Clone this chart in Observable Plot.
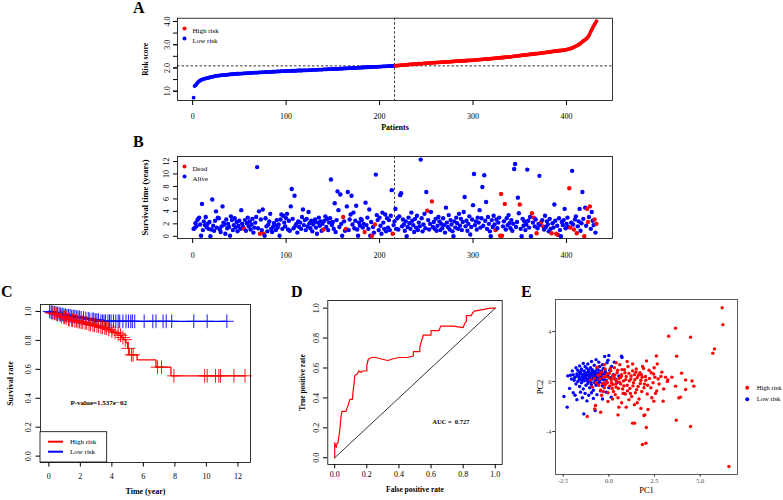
<!DOCTYPE html>
<html><head><meta charset="utf-8">
<script src="https://cdn.jsdelivr.net/npm/d3@7"></script>
<script src="https://cdn.jsdelivr.net/npm/@observablehq/plot@0.6"></script>
<style>
html,body{margin:0;padding:0;background:#fff;}
#root{position:relative;width:783px;height:500px;overflow:hidden;background:#fff;font-family:"Liberation Serif","Times New Roman",serif;}
</style></head><body><div id="root"></div>
<script>
// ---------------- DATA ----------------
const riskGroups = ["High risk", "Low risk"];
const riskColors = ["#FF0000", "#0000FF"];
const statusGroups = ["Dead", "Alive"];
const cutIndex = 216;
const cutScore = 2.09;
const patientTicks = [0, 100, 200, 300, 400];
const riskTicks = [1, 2, 3, 4];
const riskMinorTicks = [1, 1.5, 2, 2.5, 3, 3.5, 4];
const survTicks = [0, 2, 4, 6, 8, 10, 12];

// Panel A: sorted risk scores (patient 1..432)
const riskScore = [
0.72,1.22,1.25,1.30,1.36,1.40,1.43,1.46,1.48,1.50,
1.52,1.53,1.54,1.55,1.56,1.57,1.58,1.59,1.60,1.61,
1.62,1.63,1.64,1.65,1.66,1.66,1.67,1.67,1.68,1.68,
1.69,1.69,1.69,1.70,1.70,1.70,1.71,1.71,1.72,1.72,
1.73,1.73,1.73,1.74,1.74,1.74,1.75,1.75,1.75,1.76,
1.76,1.76,1.76,1.77,1.77,1.77,1.77,1.78,1.78,1.78,
1.78,1.79,1.79,1.79,1.79,1.80,1.80,1.80,1.80,1.80,
1.81,1.81,1.81,1.81,1.81,1.82,1.82,1.82,1.82,1.82,
1.83,1.83,1.83,1.83,1.84,1.84,1.84,1.84,1.84,1.85,
1.85,1.85,1.85,1.85,1.86,1.86,1.86,1.86,1.86,1.86,
1.87,1.87,1.87,1.87,1.87,1.88,1.88,1.88,1.88,1.88,
1.88,1.89,1.89,1.89,1.89,1.89,1.89,1.90,1.90,1.90,
1.90,1.90,1.90,1.91,1.91,1.91,1.91,1.91,1.92,1.92,
1.92,1.92,1.92,1.93,1.93,1.93,1.93,1.93,1.93,1.94,
1.94,1.94,1.94,1.94,1.95,1.95,1.95,1.95,1.95,1.96,
1.96,1.96,1.96,1.96,1.96,1.97,1.97,1.97,1.97,1.97,
1.98,1.98,1.98,1.98,1.98,1.99,1.99,1.99,1.99,1.99,
2.00,2.00,2.00,2.00,2.00,2.01,2.01,2.01,2.01,2.02,
2.02,2.02,2.02,2.03,2.03,2.03,2.03,2.03,2.04,2.04,
2.04,2.04,2.04,2.05,2.05,2.05,2.05,2.05,2.06,2.06,
2.06,2.06,2.07,2.07,2.07,2.07,2.07,2.08,2.08,2.08,
2.08,2.09,2.09,2.09,2.09,2.09,
2.10,2.10,2.10,2.11,2.11,2.11,2.12,2.12,2.12,2.13,
2.13,2.13,2.14,2.14,2.14,2.15,2.15,2.15,2.16,2.16,
2.16,2.17,2.17,2.17,2.18,2.18,2.18,2.19,2.19,2.19,
2.20,2.20,2.20,2.21,2.21,2.21,2.21,2.22,2.22,2.22,
2.22,2.23,2.23,2.23,2.23,2.24,2.24,2.24,2.24,2.25,
2.25,2.25,2.25,2.26,2.26,2.26,2.26,2.27,2.27,2.27,
2.27,2.28,2.28,2.28,2.29,2.29,2.29,2.29,2.30,2.30,
2.30,2.30,2.31,2.31,2.31,2.31,2.32,2.32,2.32,2.33,
2.33,2.33,2.33,2.34,2.34,2.34,2.35,2.35,2.35,2.36,
2.36,2.36,2.37,2.37,2.37,2.38,2.38,2.38,2.39,2.39,
2.39,2.40,2.40,2.40,2.41,2.41,2.41,2.42,2.42,2.43,
2.43,2.43,2.44,2.44,2.45,2.45,2.45,2.46,2.46,2.47,
2.47,2.47,2.48,2.48,2.49,2.49,2.50,2.50,2.51,2.51,
2.52,2.52,2.53,2.53,2.54,2.54,2.55,2.55,2.56,2.56,
2.56,2.57,2.57,2.58,2.58,2.59,2.59,2.60,2.60,2.61,
2.61,2.62,2.62,2.63,2.63,2.64,2.64,2.65,2.65,2.66,
2.66,2.67,2.67,2.68,2.68,2.69,2.70,2.70,2.71,2.71,
2.72,2.72,2.73,2.73,2.74,2.74,2.75,2.75,2.76,2.76,
2.77,2.78,2.78,2.79,2.80,2.81,2.82,2.83,2.85,2.86,
2.88,2.90,2.92,2.94,2.96,2.98,3.00,3.03,3.06,3.10,
3.13,3.16,3.19,3.22,3.25,3.29,3.33,3.40,3.48,3.57,
3.65,3.73,3.80,3.87,3.94,4.01
];

// Panel B: survival time (years) per patient, same order
const survTime = [
1.2,1.3,2.1,1.6,2.6,2.8,3.0,1.9,0.1,5.2,
1.0,2.4,1.8,3.1,1.5,2.0,1.2,2.3,0.0,1.1,
5.9,1.7,0.9,2.5,4.0,1.4,3.0,2.9,1.1,0.7,
1.6,4.8,2.2,1.9,0.4,2.7,1.3,2.0,1.5,0.1,
3.2,2.6,1.0,1.8,2.9,1.4,2.3,0.8,1.7,2.5,
1.2,4.2,2.0,1.5,1.2,2.6,0.9,2.1,3.0,1.6,
2.4,1.1,1.9,2.8,0.6,1.4,2.2,3.1,11.1,1.3,
4.0,0.4,2.7,1.0,4.3,0.4,0.1,2.9,1.6,0.8,
1.9,2.4,3.6,1.2,0.7,1.5,2.1,1.8,1.0,2.6,
1.4,1.9,0.1,2.7,3.5,1.2,3.3,2.2,1.6,2.9,
3.6,1.1,2.5,0.9,4.8,7.6,2.8,1.3,6.5,1.7,
2.0,0.6,2.4,1.5,2.2,1.2,3.1,4.3,1.8,2.6,
1.0,2.8,1.6,3.9,2.1,1.3,2.5,0.8,1.9,2.3,
2.7,1.4,0.4,2.2,3.0,1.7,2.4,0.9,2.0,1.1,
2.5,3.2,1.5,2.8,1.0,2.2,2.9,9.1,1.8,2.3,
1.2,5.3,0.7,2.6,7.2,4.2,1.5,6.7,2.0,0.1,
3.1,2.4,0.9,1.2,4.8,7.1,1.0,2.7,3.5,6.5,
1.9,3.8,1.3,2.5,4.9,1.1,0.1,2.2,1.7,2.8,
2.6,1.4,2.0,0.7,5.4,1.8,3.0,1.2,4.3,0.1,
2.3,0.1,1.5,0.6,1.9,9.9,3.4,2.6,1.0,3.0,
1.7,0.4,3.8,2.2,1.2,3.5,0.8,2.9,1.4,2.6,
1.0,3.3,7.4,0.4,1.8,2.4,
4.4,1.2,2.9,1.1,3.2,6.6,6.9,1.6,2.7,1.9,
0.9,2.4,0.0,1.5,3.0,2.1,1.2,3.8,2.5,1.8,
0.7,2.8,1.4,3.3,1.0,2.2,1.6,12.3,2.9,0.8,
1.9,3.6,1.3,7.1,4.1,2.6,1.1,2.0,3.9,5.6,
1.5,2.3,1.2,2.8,0.9,1.7,3.1,2.4,1.0,2.0,
1.3,2.9,1.8,0.6,4.6,2.2,1.5,3.4,1.1,2.6,
1.9,0.8,0.0,2.4,1.4,3.0,2.1,1.2,3.6,1.7,
2.8,1.0,2.3,3.9,6.3,1.6,2.5,0.9,2.0,3.2,
0.3,1.5,2.7,5.0,10.0,1.8,2.4,1.1,3.0,2.2,
4.2,1.4,2.9,7.9,1.7,9.8,2.5,5.5,1.2,3.1,
2.0,0.8,0.0,2.6,1.5,3.3,1.9,1.0,2.7,1.3,
2.2,3.0,0.1,6.8,0.1,1.6,2.4,5.2,1.1,2.9,
1.8,3.4,2.1,1.3,2.6,0.9,2.0,10.8,11.6,1.5,
2.3,6.2,3.7,5.1,1.2,0.0,2.8,1.7,2.4,1.0,
1.9,10.7,2.5,1.4,3.1,0.0,3.7,2.2,3.0,1.6,
2.7,0.5,1.3,2.0,9.7,1.8,2.3,2.6,1.6,1.1,
3.3,1.5,2.4,1.9,0.8,2.8,1.2,0.5,2.1,1.4,
5.1,2.5,0.4,1.7,0.2,2.9,1.0,0.0,2.3,1.8,
2.6,4.4,1.3,2.0,3.0,1.5,7.7,1.4,2.2,10.5,
1.9,1.1,2.7,3.2,0.5,1.6,2.4,4.4,0.9,2.1,
7.1,2.8,0.0,4.6,1.7,4.4,2.3,3.1,4.8,1.2,
3.9,2.5,1.8,2.7,0.6,2.0
];
// patients (1-based) who died
const deadPatients = [55,72,76,140,161,164,184,192,195,214,251,256,324,329,330,331,334,350,363,365,368,373,375,384,389,391,403,404,408,411,419,422,423,425,430,432];

// Panel C: Kaplan-Meier steps
const kmGroups = ["High risk", "Low risk"];
const kmTicksX = [0, 2, 4, 6, 8, 10, 12];
const rateTicks = [0, 0.2, 0.4, 0.6, 0.8, 1.0];
const hiT = [0,0.15,0.3,0.45,0.6,0.75,0.9,1.05,1.2,1.4,1.6,1.8,2.0,2.2,2.45,2.7,2.95,3.2,3.45,3.7,3.9,4.1,4.3,4.45,4.6,4.75,4.9,5.0,5.1,5.6,6.8,7.75,12.45];
const hiS = [1,0.99,0.985,0.98,0.975,0.965,0.96,0.955,0.945,0.94,0.935,0.93,0.925,0.92,0.91,0.905,0.9,0.89,0.885,0.875,0.865,0.855,0.845,0.835,0.82,0.805,0.785,0.745,0.70,0.665,0.615,0.555,0.555];
const hiCens = [0.2,0.35,0.5,0.55,0.7,0.8,0.95,1.0,1.1,1.25,1.3,1.45,1.5,1.65,1.75,1.85,1.95,2.05,2.15,2.3,2.4,2.55,2.65,2.8,2.9,3.05,3.15,3.3,3.4,3.55,3.65,3.8,4.0,4.2,4.4,4.55,4.7,4.85,5.05,5.25,5.35,6.9,7.15,7.94,9.89,10.05,10.58,10.79,10.9,11.75,12.45];
const loT = [0,0.1,0.3,0.5,0.7,0.9,1.1,1.4,1.7,2.0,2.3,2.6,2.9,3.2,11.3];
const loS = [1,0.995,0.99,0.985,0.98,0.975,0.97,0.965,0.96,0.955,0.95,0.945,0.94,0.932,0.932];
const loCens = [0.05,0.15,0.25,0.35,0.45,0.55,0.65,0.75,0.85,0.95,1.05,1.15,1.25,1.35,1.45,1.55,1.65,1.75,1.85,1.95,2.05,2.2,2.35,2.5,2.6,2.75,2.85,2.95,3.05,3.15,3.3,3.4,3.5,3.6,3.75,3.85,3.95,4.1,4.25,4.4,4.5,4.7,4.9,5.05,5.2,5.3,5.45,6.05,6.6,6.8,7.25,7.45,7.8,9.2,10.05,11.3];
const pValueLabel = "P-value=1.537e\u221202";

// Panel D: ROC
const rocFPR = [0,0,0.01,0.015,0.02,0.03,0.04,0.045,0.07,0.08,0.095,0.11,0.115,0.12,0.125,0.14,0.15,0.165,0.17,0.2,0.2,0.21,0.23,0.255,0.29,0.33,0.36,0.4,0.45,0.49,0.49,0.53,0.53,0.54,0.55,0.55,0.6,0.6,0.65,0.66,0.74,0.8,0.81,0.82,0.82,0.85,0.86,0.87,0.97,1.0];
const rocTPR = [0,0.1,0.07,0.1,0.1,0.17,0.28,0.31,0.31,0.34,0.39,0.39,0.45,0.49,0.55,0.56,0.58,0.57,0.58,0.58,0.62,0.66,0.67,0.67,0.66,0.65,0.66,0.67,0.67,0.68,0.71,0.71,0.74,0.78,0.81,0.82,0.82,0.85,0.85,0.88,0.88,0.87,0.9,0.91,0.95,0.95,0.97,0.98,1.0,1.0];
const diagonal = [0, 1];
const aucLabel = "AUC =  0.727";

// Panel E: PCA
const pc1Ticks = [-2.5, 0, 2.5, 5];
const pc2Ticks = [-4, 0, 4];
const lowPC = [
[-2.46,-1.20],[-2.28,-2.05],[-1.37,-2.59],[-0.75,-2.32],[0.13,-1.25],[0.69,2.03],[0.72,1.92],[0.0,2.08],[-0.23,2.00],[-0.55,1.55],
[-2.25,0.45],[-2.10,0.50],[-2.05,0.20],[-1.95,0.55],[-1.90,0.10],[-1.85,0.35],[-1.80,-0.20],[-1.75,0.60],[-1.70,0.90],[-1.70,0.00],
[-1.65,0.40],[-1.60,-0.40],[-1.60,0.75],[-1.55,0.15],[-1.50,1.00],[-1.50,-0.10],[-1.45,0.55],[-1.40,0.30],[-1.40,-0.60],[-1.35,0.85],
[-1.35,0.05],[-1.30,1.20],[-1.30,0.45],[-1.25,-0.30],[-1.25,0.70],[-1.20,0.20],[-1.20,1.05],[-1.15,-0.15],[-1.15,0.50],[-1.10,0.90],
[-1.10,0.00],[-1.05,0.35],[-1.05,-0.50],[-1.00,0.65],[-1.00,1.10],[-0.95,0.15],[-0.95,-0.25],[-0.90,0.45],[-0.90,0.95],[-0.85,0.25],
[-0.85,-0.70],[-0.80,0.60],[-0.80,1.30],[-0.75,0.05],[-0.75,0.80],[-0.70,0.35],[-0.70,-0.30],[-0.65,1.00],[-0.65,0.50],[-0.60,0.15],
[-0.60,-0.15],[-0.55,0.70],[-0.55,0.30],[-0.50,1.20],[-0.50,-0.05],[-0.45,0.55],[-0.40,0.85],[-0.40,0.20],[-0.35,-0.35],[-0.30,0.60],
[-0.30,1.05],[-0.25,0.35],[-0.20,0.80],[-0.15,0.10],[-0.10,1.50],[-0.05,0.45],[0.00,-0.50],[0.05,0.90],[0.10,0.30],[0.15,1.20],
[0.25,0.55],[0.35,0.20],[0.45,-0.10],[0.55,0.45],[0.82,-0.95],[-1.95,-0.90],[-2.15,-0.55],[-1.85,-1.10],[-1.75,-1.45],[-1.55,-0.85],
[-1.45,-1.30],[-1.30,-0.95],[-1.20,-1.55],[-1.10,-1.10],[-0.95,-0.90],[-0.85,-1.35],[-0.65,-1.05],[-0.45,-0.75],[-0.35,-1.40],[-0.15,-0.85],
[-2.00,0.85],[-1.80,1.10],[-1.60,1.25],[-1.40,1.45],[-1.15,1.40],[-0.95,1.60],[-0.70,1.75],[-0.35,1.35],[-0.05,1.70],[0.30,1.55],
[-1.62,0.22],[-1.48,0.38],[-1.33,0.62],[-1.18,0.08],[-1.02,0.48],[-0.88,0.72],[-0.72,0.18],[-0.58,0.92],[-0.42,0.42],[-0.28,0.12],
[-1.72,0.48],[-1.58,0.62],[-1.42,0.12],[-1.28,0.28],[-1.12,0.75],[-0.98,-0.05],[-0.82,0.40],[-0.68,0.62],[-0.52,0.08],[-0.38,0.68],
[-1.88,0.30],[-1.52,0.82],[-1.22,0.55],[-1.08,0.25],[-0.92,0.85],[-0.78,-0.10],[-0.62,0.40],[-0.48,0.52],[-0.22,-0.20],[-0.12,0.65]
];
const highPC = [
[6.20,5.90],[6.24,4.55],[5.78,2.61],[5.69,2.27],[3.65,4.27],[3.27,3.63],[4.47,3.55],[3.71,2.03],[6.57,-6.80],[1.84,-5.04],
[2.03,-4.93],[2.05,-3.68],[1.30,-3.33],[1.41,-3.33],[3.69,-3.10],[4.47,-3.60],[1.92,-2.72],[1.97,-2.67],[2.14,-2.24],[0.50,-2.67],
[-1.18,-2.80],[-0.45,-2.45],[-0.73,-1.92],[-0.77,-2.19],[2.46,-1.57],[2.97,-1.57],[3.83,-1.31],[3.92,-1.25],[4.65,-0.37],[4.20,-0.64],
[3.65,-0.37],[4.20,0.13],[3.98,0.67],[3.23,0.13],[2.90,0.75],[2.65,1.41],[2.06,1.65],[3.20,0.00],[2.70,0.20],[2.45,0.60],
[2.30,-0.50],[2.20,0.90],[2.10,-1.00],[2.00,0.40],[1.95,-0.20],[1.85,1.20],[1.80,-0.80],[1.75,0.10],[1.70,0.70],[1.65,-1.40],
[1.60,-0.40],[1.55,0.30],[1.50,1.00],[1.45,-0.90],[1.40,0.55],[1.35,-0.10],[1.30,0.85],[1.25,-1.20],[1.20,0.20],[1.15,-0.55],
[1.10,0.65],[1.05,1.20],[1.00,-0.30],[0.95,0.40],[0.90,-1.00],[0.85,0.95],[0.80,0.05],[0.75,-0.60],[0.70,0.55],[0.65,-0.20],
[0.60,1.35],[0.55,0.25],[0.50,-1.30],[0.45,0.70],[0.40,-0.45],[0.35,0.15],[0.30,1.10],[0.25,-0.80],[0.20,0.45],[0.15,-0.10],
[0.10,0.85],[0.05,-0.35],[0.00,0.30],[-0.05,-0.90],[-0.10,0.60],[-0.15,0.00],[-0.20,1.00],[-0.25,-0.50],[-0.30,0.35],[-0.35,-0.15],
[-0.40,0.75],[-0.45,-0.70],[-0.50,0.20],[-0.55,-0.30],[-0.60,0.50],[-0.65,1.15],[-0.70,-0.10],[-0.80,0.25],[-0.90,-0.45],[-1.00,0.10],
[0.12,0.15],[0.22,-0.25],[0.32,0.50],[0.42,0.05],[0.52,-0.55],[0.62,0.30],[0.72,0.95],[0.82,-0.35],[0.92,0.15],[1.02,-0.75],
[-0.18,0.40],[-0.08,-0.10],[0.02,0.65],[0.18,-0.55],[0.28,0.25],[0.38,-0.20],[0.48,0.90],[0.58,-0.05],[0.68,0.40],[0.78,-0.95],
[1.12,0.05],[1.22,0.45],[1.32,-0.35],[1.42,0.15],[1.52,-0.65],[1.62,0.50],[1.72,-0.15],[1.82,0.35],[1.92,-0.50],[2.02,0.10],
[2.12,-0.30],[2.22,0.25],[2.32,0.70],[2.42,-0.10],[2.52,0.35],[2.62,-0.75],[2.75,-0.20],[2.85,0.40],[3.00,-0.60],[3.10,0.35],
[1.00,1.60],[1.30,1.40],[0.40,1.50],[-0.25,1.35],[1.55,-1.70],[1.10,-1.45],[0.70,-1.70],[0.20,-1.40],[-0.40,-1.10],[2.35,-1.30],
[-0.05,-1.60],[0.95,-2.05],[1.75,-2.15],[2.55,-0.95],[3.45,0.35],[4.55,0.05],[1.40,-1.85],[0.55,-2.05],[2.60,2.05],[1.90,1.05],
[-0.30,-0.80],[-0.50,0.55],[-0.20,-0.25],[0.08,1.05],[0.35,-1.05],[0.88,0.70],[1.18,-0.95],[1.48,0.75],[1.78,0.55],[2.48,1.10]
];

const panelLetters = ["A", "B", "C", "D", "E"];

// ---------------- BUILD ----------------
const FONT = "'Liberation Serif','Times New Roman',serif";
const baseStyle = {fontFamily: FONT, fontSize: "8px", background: "transparent", overflow: "visible", color: "black"};
const root = document.getElementById("root");
function place(el, left, top) {
  el.style.position = "absolute";
  el.style.left = left + "px";
  el.style.top = top + "px";
  root.appendChild(el);
}
function cornerLegend(items, {frameAnchor, dx, dy0, step, r, textDx, fontSize}) {
  return items.flatMap((g, k) => [
    Plot.dot([g], {frameAnchor, dx, dy: dy0 + k * step, r, fill: d => d}),
    Plot.text([g], {frameAnchor, dx: dx + textDx, dy: dy0 + k * step, text: d => d, textAnchor: "start", fontSize})
  ]);
}
function yLabel(label, dx, fontSize, extra = {}) {
  return Plot.text([label], {text: d => d, frameAnchor: "left", dx, rotate: -90, textAnchor: "middle", lineAnchor: "middle", fontSize, ...extra});
}
function survivalAt(T, S, t) {
  let v = S[0];
  for (let i = 0; i < T.length; i++) if (T[i] <= t) v = S[i];
  return v;
}
const f1 = d3.format(".1f");

// Panel A
const aData = riskScore.map((s, i) => ({i: i + 1, s, g: i + 1 <= cutIndex ? "Low risk" : "High risk"}));
const plotA = Plot.plot({
  width: 500, height: 125, marginLeft: 47, marginRight: 18, marginTop: 7.7, marginBottom: 35,
  style: baseStyle,
  x: {domain: [-16.2, 449.2]},
  y: {domain: [0.6, 4.14]},
  color: {domain: riskGroups, range: riskColors},
  marks: [
    Plot.ruleY([cutScore], {strokeDasharray: "2.5,2", strokeWidth: 0.8}),
    Plot.ruleX([cutIndex], {strokeDasharray: "2.5,2", strokeWidth: 0.8}),
    Plot.dot(aData, {x: "i", y: "s", fill: "g", r: 1.9}),
    Plot.frame({strokeWidth: 0.8}),
    Plot.axisX({ticks: patientTicks, tickSize: 5, tickPadding: 8, fontSize: 8, label: null}),
    Plot.axisY({ticks: riskMinorTicks, tickSize: 4, fill: "none", label: null}),
    Plot.axisY({ticks: riskTicks, tickSize: 4, tickPadding: 4, tickRotate: -90, tickFormat: f1, fontSize: 8, label: null}),
    Plot.text(["Patients"], {text: d => d, frameAnchor: "bottom", dy: 29, fontWeight: "bold", fontSize: 8}),
    yLabel("Risk score", -32, 7.5, {fontWeight: "bold"}),
    ...cornerLegend(riskGroups, {frameAnchor: "top-left", dx: 7, dy0: 10.3, step: 10, r: 2, textDx: 8, fontSize: 7})
  ]
});
place(plotA, 130, 10);

// Panel B
const deadSet = new Set(deadPatients);
const bData = survTime.map((t, i) => ({i: i + 1, t, st: deadSet.has(i + 1) ? "Dead" : "Alive"}));
const plotB = Plot.plot({
  width: 500, height: 125, marginLeft: 47, marginRight: 18, marginTop: 16, marginBottom: 27,
  style: baseStyle,
  x: {domain: [-16.2, 449.2]},
  y: {domain: [-0.35, 12.8]},
  color: {domain: statusGroups, range: riskColors},
  marks: [
    Plot.ruleX([cutIndex], {strokeDasharray: "2.5,2", strokeWidth: 0.8}),
    Plot.dot(bData, {x: "i", y: "t", fill: "st", r: 2.2}),
    Plot.frame({strokeWidth: 0.8}),
    Plot.axisX({ticks: patientTicks, tickSize: 5, tickPadding: 9, fontSize: 8, label: null}),
    Plot.axisY({ticks: survTicks, tickSize: 4, tickPadding: 5, tickRotate: -90, fontSize: 8, label: null}),
    yLabel("Survival time (years)", -32, 8.5, {fontWeight: "bold"}),
    ...cornerLegend(statusGroups, {frameAnchor: "top-left", dx: 7, dy0: 10, step: 10, r: 2, textDx: 8, fontSize: 7})
  ]
});
place(plotB, 130, 140);

// Panel C
const hiKM = hiT.map((t, i) => ({t, s: hiS[i]}));
const loKM = loT.map((t, i) => ({t, s: loS[i]}));
const hiC = hiCens.map(t => ({t, s: survivalAt(hiT, hiS, t)}));
const loC = loCens.map(t => ({t, s: survivalAt(loT, loS, t)}));
function kmLegend(index, scales, values, dim) {
  const g = d3.create("svg:g");
  const x0 = dim.marginLeft, y1 = dim.height - dim.marginBottom;
  const w = 66.7, h = 30.3;
  g.append("rect").attr("x", x0).attr("y", y1 - h).attr("width", w).attr("height", h)
    .attr("fill", "white").attr("stroke", "black").attr("stroke-width", 0.8);
  kmGroups.forEach((name, k) => {
    const yy = y1 - h + 10 + 10 * k;
    g.append("line").attr("x1", x0 + 8).attr("x2", x0 + 23).attr("y1", yy).attr("y2", yy)
      .attr("stroke", riskColors[k]).attr("stroke-width", 2);
    g.append("text").attr("x", x0 + 30).attr("y", yy).attr("dy", "0.32em")
      .attr("text-anchor", "start").attr("font-size", 7).attr("fill", "black").text(name);
  });
  return g.node();
}
const plotC = Plot.plot({
  width: 270, height: 210, marginLeft: 40, marginRight: 20, marginTop: 14, marginBottom: 38,
  style: baseStyle,
  x: {domain: [-0.53, 12.8]},
  y: {domain: [-0.044, 1.048]},
  marks: [
    Plot.line(loKM, {x: "t", y: "s", curve: "step-after", stroke: riskColors[1], strokeWidth: 1.3}),
    Plot.line(hiKM, {x: "t", y: "s", curve: "step-after", stroke: riskColors[0], strokeWidth: 1.3}),
    Plot.dot(loC, {x: "t", y: "s", symbol: "plus", stroke: riskColors[1], r: 4.5, strokeWidth: 0.9}),
    Plot.dot(hiC, {x: "t", y: "s", symbol: "plus", stroke: riskColors[0], r: 4.5, strokeWidth: 0.9}),
    Plot.frame({strokeWidth: 0.8}),
    Plot.axisX({ticks: kmTicksX, tickSize: 4.5, tickPadding: 6, fontSize: 8, label: null}),
    Plot.axisY({ticks: rateTicks, tickSize: 4.5, tickPadding: 5, tickRotate: -90, tickFormat: f1, fontSize: 8, label: null}),
    Plot.text(["Time (year)"], {text: d => d, frameAnchor: "bottom", dy: 31, fontWeight: "bold", fontSize: 8}),
    yLabel("Survival rate", -30, 8, {fontWeight: "bold"}),
    Plot.text([pValueLabel], {text: d => d, frameAnchor: "left", dx: 30, dy: 19.3, textAnchor: "start", fontWeight: "bold", fontSize: 7}),
    kmLegend
  ]
});
place(plotC, 0, 290);

// Panel D
const rocData = rocFPR.map((f, i) => ({fpr: f, tpr: rocTPR[i]}));
const plotD = Plot.plot({
  width: 260, height: 210, marginLeft: 57.3, marginRight: 28.3, marginTop: 10, marginBottom: 36,
  style: baseStyle,
  x: {domain: [-0.043, 1.043]},
  y: {domain: [-0.045, 1.051]},
  marks: [
    Plot.line(diagonal, {x: d => d, y: d => d, stroke: "black", strokeWidth: 0.8}),
    Plot.line(rocData, {x: "fpr", y: "tpr", stroke: "#FF0000", strokeWidth: 1.2}),
    Plot.frame({strokeWidth: 0.8}),
    Plot.axisX({ticks: rateTicks, tickSize: 4.3, tickPadding: 2.5, tickFormat: f1, fontSize: 8, label: null}),
    Plot.axisY({ticks: rateTicks, tickSize: 4.3, tickPadding: 4.7, tickRotate: -90, tickFormat: f1, fontSize: 8, label: null}),
    Plot.text(["False positive rate"], {text: d => d, frameAnchor: "bottom", dy: 27.7, fontWeight: "bold", fontSize: 7.5}),
    yLabel("True positive rate", -25.6, 7.5, {fontWeight: "bold"}),
    Plot.text([aucLabel], {text: d => d, frameAnchor: "left", dx: 104.4, dy: 39.7, textAnchor: "start", fontWeight: "bold", fontSize: 6.5})
  ]
});
place(plotD, 270, 290);

// Panel E
const ePts = [
  ...lowPC.map(([a, b]) => ({pc1: a, pc2: b, g: "Low risk"})),
  ...highPC.map(([a, b]) => ({pc1: a, pc2: b, g: "High risk"}))
];
const plotE = Plot.plot({
  width: 263, height: 215, marginLeft: 35, marginRight: 46, marginTop: 14, marginBottom: 26,
  style: baseStyle,
  x: {domain: [-2.92, 7.04]},
  y: {domain: [-7.44, 6.56]},
  color: {domain: riskGroups, range: riskColors},
  marks: [
    Plot.dot(ePts, {x: "pc1", y: "pc2", fill: "g", r: 1.7}),
    Plot.frame({stroke: "#333333", strokeWidth: 0.8}),
    Plot.axisX({ticks: pc1Ticks, tickSize: 2.7, tickPadding: 1.2, tickFormat: d => d.toFixed(1), stroke: "#333333", fill: "#4D4D4D", fontSize: 6.3, label: null}),
    Plot.axisY({ticks: pc2Ticks, tickSize: 2.7, tickPadding: 1.5, tickFormat: d => String(d), stroke: "#333333", fill: "#4D4D4D", fontSize: 6.3, label: null}),
    Plot.text(["PC1"], {text: d => d, frameAnchor: "bottom", dy: 18.5, fontSize: 8.5}),
    yLabel("PC2", -15, 8.5),
    ...cornerLegend(riskGroups, {frameAnchor: "right", dx: 9.7, dy0: 0.8, step: 11.4, r: 2, textDx: 9.5, fontSize: 6.6})
  ]
});
place(plotE, 520, 285);

// Panel letters overlay
const letterPos = [[133, 12.5], [133, 147], [1, 296.5], [291, 296.5], [521, 296.5]];
const overlay = d3.create("svg").attr("width", 783).attr("height", 500)
  .style("position", "absolute").style("left", "0px").style("top", "0px").style("pointer-events", "none");
panelLetters.forEach((L, k) => {
  overlay.append("text").attr("x", letterPos[k][0]).attr("y", letterPos[k][1])
    .attr("font-family", FONT).attr("font-weight", "bold").attr("font-size", 16).text(L);
});
root.appendChild(overlay.node());
</script></body></html>
